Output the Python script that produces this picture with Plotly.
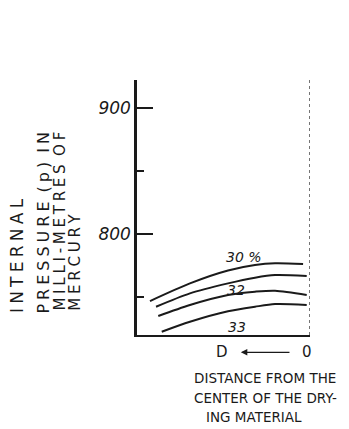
import plotly.graph_objects as go

# Distance along the drying material (arbitrary units, 0 = left edge of plot, 10 = surface line)
x_30 = [0.75, 3.06, 5.26, 6.82, 7.98, 9.60]
p_30 = [746.9, 760.9, 771.1, 775.4, 776.8, 776.2]
x_31 = [1.10, 3.06, 5.26, 6.82, 7.98, 9.81]
p_31 = [742.4, 753.0, 760.9, 765.4, 767.5, 766.7]
x_32 = [1.23, 3.06, 5.26, 6.82, 7.98, 9.81]
p_32 = [735.0, 743.8, 751.7, 754.3, 755.1, 751.7]
x_33 = [1.43, 3.06, 5.26, 6.82, 7.98, 9.81]
p_33 = [722.6, 730.5, 738.8, 742.4, 744.5, 743.8]

curve_labels = ["30 %", "32", "33"]
label_x = [6.2, 5.7, 5.8]
label_y = [782, 755.5, 726]

ink = "#1a1a1a"


def spaced(s, gap):
    """Letter-spaced lettering: a narrow space between glyphs, a wider one between words."""
    out = ""
    for i, ch in enumerate(s):
        if ch == " ":
            out += " " + gap
            continue
        out += ch
        if i < len(s) - 1 and s[i + 1] != " ":
            out += gap
    return out


fig = go.Figure()
for xs, ps in [(x_30, p_30), (x_31, p_31), (x_32, p_32), (x_33, p_33)]:
    fig.add_trace(go.Scatter(x=xs, y=ps, mode="lines",
                             line=dict(color=ink, width=2, shape="spline", smoothing=0.8),
                             showlegend=False, hoverinfo="skip"))

for t, lx, ly in zip(curve_labels, label_x, label_y):
    fig.add_annotation(x=lx, y=ly, text=t, showarrow=False,
                       font=dict(family="DejaVu Sans", size=14, color=ink, style="italic"))

# Right-hand boundary (surface of the material)
fig.add_shape(type="line", xref="x", yref="paper", x0=10, x1=10, y0=0, y1=1.01,
              line=dict(color=ink, width=1.2, dash="dot"))

# Direction marker under the x axis
fig.add_annotation(x=4.9, y=-0.068, xref="x", yref="paper", text="D", showarrow=False,
                   yanchor="middle", font=dict(family="DejaVu Sans", size=15, color=ink))
fig.add_annotation(x=9.8, y=-0.068, xref="x", yref="paper", text="0", showarrow=False,
                   yanchor="middle", font=dict(family="DejaVu Sans", size=15, color=ink))
fig.add_annotation(x=6.0, y=-0.068, xref="x", yref="paper", ax=8.9, ay=0,
                   axref="x", ayref="pixel", text="", showarrow=True,
                   arrowhead=2, arrowsize=1, arrowwidth=1.3, arrowcolor=ink)

# X axis title
for t, px, py in [("DISTANCE FROM THE", 0.318, -0.1686),
                  ("CENTER OF THE DRY-", 0.318, -0.247),
                  ("ING MATERIAL", 0.387, -0.3216)]:
    fig.add_annotation(x=px, y=py, xref="paper", yref="paper", text=t, showarrow=False,
                       xanchor="left", yanchor="middle",
                       font=dict(family="DejaVu Sans", size=13.5, color=ink))

# Y axis title, rotated lines
for t, px, py, sz, gap in [("INTERNAL", -0.6965, 0.078, 17, "\u2005"),
                           ("PRESSURE (p) IN", -0.5405, 0.078, 16, "\u2005"),
                           ("MILLI-METRES OF", -0.445, 0.086, 15, "\u2005"),
                           ("MERCURY", -0.358, 0.086, 15, "\u2005")]:
    fig.add_annotation(x=px, y=py, xref="paper", yref="paper", text=spaced(t, gap),
                       showarrow=False, textangle=-90, xanchor="center", yanchor="bottom",
                       font=dict(family="DejaVu Sans", size=sz, color=ink))

fig.update_layout(
    width=349, height=429,
    margin=dict(l=137, r=39, t=80, b=94),
    paper_bgcolor="white", plot_bgcolor="white",
    xaxis=dict(range=[0, 10], showgrid=False, zeroline=False, showticklabels=False,
               ticks="", showline=True, linecolor=ink, linewidth=1.5),
    yaxis=dict(range=[720, 922], showgrid=False, zeroline=False,
               tickvals=[800, 900], ticks="inside", ticklen=16, tickwidth=1.5, tickcolor=ink,
               showline=True, linecolor=ink, linewidth=2.5,
               tickfont=dict(family="DejaVu Sans", size=17, color=ink, style="italic"),
               minor=dict(tickvals=[750, 850], ticks="inside", ticklen=7,
                          tickwidth=1.5, tickcolor=ink)),
)

fig.write_html("out.html")
